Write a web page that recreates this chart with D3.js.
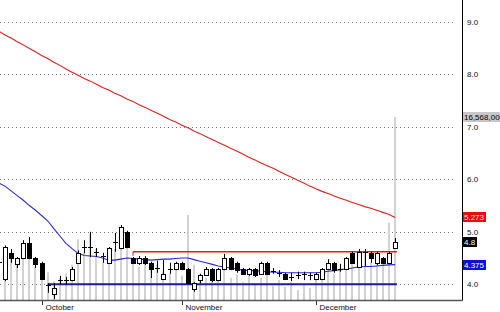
<!DOCTYPE html>
<html>
<head>
<meta charset="utf-8">
<script src="https://cdn.jsdelivr.net/npm/d3@7"></script>
<style>
body { margin: 0; background: #fff; }
svg { display: block; font-family: "Liberation Sans", Arial, sans-serif; }
</style>
</head>
<body>
<svg id="chart"></svg>
<script>
// daily candles, late September to mid December
var opens  = [4.42,4.10,4.60,4.39,4.50,4.79,4.50,4.41,3.98,3.82,4.08,4.08,4.08,4.41,4.71,4.70,4.62,4.52,4.41,4.79,4.69,5.00,4.50,4.41,4.50,4.41,4.31,4.10,4.29,4.29,4.41,4.29,3.91,4.08,4.18,4.29,4.08,4.29,4.50,4.41,4.29,4.20,4.29,4.20,4.41,4.25,4.20,4.20,4.12,4.18,4.18,4.16,4.10,4.10,4.29,4.41,4.29,4.29,4.60,4.33,4.61,4.60,4.41,4.50,4.41,4.69];
var highs  = [4.45,4.74,4.67,4.52,4.84,4.90,4.52,4.43,4.02,4.02,4.16,4.14,4.33,4.65,4.84,5.00,4.69,4.60,4.71,4.98,5.13,5.02,4.52,4.54,4.54,4.43,4.45,4.46,4.41,4.43,4.43,4.31,4.04,4.20,4.33,4.31,4.31,4.58,4.52,4.43,4.31,4.31,4.31,4.43,4.43,4.31,4.27,4.22,4.22,4.24,4.24,4.22,4.22,4.31,4.48,4.43,4.39,4.52,4.62,4.67,4.67,4.62,4.62,4.52,4.62,4.88];
var lows   = [4.35,4.06,4.41,4.31,4.48,4.48,4.31,4.08,3.84,3.72,4.00,4.00,4.06,4.39,4.59,4.52,4.52,4.41,4.39,4.62,4.67,4.69,4.39,4.37,4.37,4.12,4.22,4.08,4.20,4.27,4.27,4.00,3.86,4.02,4.16,4.04,4.06,4.27,4.27,4.22,4.18,4.16,4.14,4.18,4.18,4.20,4.14,4.08,4.06,4.10,4.08,4.08,4.08,4.08,4.27,4.22,4.24,4.27,4.39,4.31,4.35,4.41,4.37,4.39,4.39,4.69];
var closes = [4.40,4.71,4.50,4.50,4.79,4.50,4.39,4.10,3.96,3.93,4.09,4.09,4.29,4.60,4.72,4.71,4.61,4.53,4.69,4.80,5.09,4.71,4.41,4.50,4.41,4.29,4.30,4.20,4.30,4.41,4.29,4.02,4.02,4.18,4.29,4.08,4.29,4.50,4.29,4.27,4.20,4.29,4.18,4.41,4.20,4.26,4.21,4.10,4.13,4.17,4.19,4.17,4.20,4.29,4.41,4.27,4.30,4.50,4.41,4.62,4.62,4.50,4.60,4.41,4.60,4.8];
var volumes = [3000000,3500000,4000000,3200000,4200000,3800000,3000000,2200000,2500000,1700000,2000000,2400000,3200000,5500000,4300000,6000000,4600000,3400000,4500000,4600000,5800000,4800000,3600000,3000000,3400000,2800000,3200000,2600000,2400000,2800000,2200000,7700000,3200000,2400000,2000000,2600000,1800000,3500000,2000000,2300000,1600000,2200000,1500000,2000000,2400000,1300000,1800000,1200000,1600000,900000,1400000,1100000,2000000,2600000,3300000,2400000,2900000,3400000,3800000,3000000,4200000,3400000,3900000,3600000,7000000,16568000];
var maLong = [8.82,8.75,8.69,8.62,8.56,8.49,8.43,8.36,8.30,8.23,8.17,8.10,8.04,7.98,7.92,7.87,7.81,7.75,7.70,7.64,7.59,7.53,7.48,7.42,7.37,7.31,7.26,7.20,7.14,7.09,7.03,6.98,6.92,6.87,6.81,6.76,6.70,6.65,6.59,6.54,6.48,6.42,6.37,6.31,6.26,6.21,6.15,6.09,6.04,5.98,5.93,5.87,5.82,5.77,5.73,5.68,5.64,5.60,5.56,5.52,5.48,5.45,5.41,5.37,5.33,5.273];
var maShort = [5.93,5.87,5.78,5.69,5.60,5.50,5.41,5.31,5.21,5.06,4.92,4.78,4.68,4.59,4.55,4.54,4.53,4.50,4.46,4.46,4.48,4.50,4.49,4.48,4.47,4.46,4.47,4.48,4.48,4.49,4.50,4.50,4.47,4.44,4.41,4.38,4.35,4.33,4.31,4.29,4.27,4.26,4.26,4.25,4.24,4.23,4.23,4.22,4.22,4.22,4.22,4.22,4.22,4.23,4.25,4.26,4.28,4.29,4.31,4.33,4.34,4.34,4.35,4.36,4.37,4.375];
var priceTicks = [4, 5, 6, 7, 8, 9];
var monthLabels = ["October", "November", "December"];
var monthStarts = [7, 30, 52];
var resistance = [22, 65.3, 4.62];   // from index, to index, price
var support = [8, 65.3, 4.0];

var width = 500, height = 312;
var plotRight = 462, volBase = 300;

var svg = d3.select("#chart").attr("width", width).attr("height", height);

var last = closes.length - 1;
var x = d3.scaleLinear().domain([0, last]).range([-1.1, 395.1]);
var y = d3.scaleLinear().domain([4, 9]).range([284.3, 21.8]);
var yv = d3.scaleLinear().domain([0, d3.max(volumes)]).range([volBase, 117]);

function px(v) { return Math.round(v) + 0.5; }

// dotted grid
svg.append("g").selectAll("line").data(priceTicks).join("line")
    .attr("x1", 0).attr("x2", 456)
    .attr("y1", function(d) { return px(y(d)); })
    .attr("y2", function(d) { return px(y(d)); })
    .attr("stroke", "#777").attr("stroke-dasharray", "1,3");

// volume
svg.append("g").selectAll("rect").data(volumes).join("rect")
    .attr("x", function(d, i) { return Math.round(x(i)) - 1; })
    .attr("width", 2)
    .attr("y", function(d) { return yv(d); })
    .attr("height", function(d) { return volBase - yv(d); })
    .attr("fill", "#d2d2d2");

// moving averages
var line = d3.line().x(function(d, i) { return x(i); }).y(function(d) { return y(d); });
svg.append("path").datum(maLong).attr("d", line)
    .attr("fill", "none").attr("stroke", "#dd2020").attr("stroke-width", 1.1);
svg.append("path").datum(maShort).attr("d", line)
    .attr("fill", "none").attr("stroke", "#2a2ad0").attr("stroke-width", 1.1);

// support / resistance
svg.append("line")
    .attr("x1", x(resistance[0])).attr("x2", x(resistance[1]))
    .attr("y1", y(resistance[2])).attr("y2", y(resistance[2]))
    .attr("stroke", "#d42020").attr("stroke-width", 1.5);
svg.append("line")
    .attr("x1", x(resistance[0])).attr("x2", x(resistance[0]))
    .attr("y1", y(resistance[2])).attr("y2", y(resistance[2]) + 4)
    .attr("stroke", "#d42020").attr("stroke-width", 1);
svg.append("line")
    .attr("x1", x(support[0])).attr("x2", x(support[1]))
    .attr("y1", y(support[2])).attr("y2", y(support[2]))
    .attr("stroke", "#1c1c9a").attr("stroke-width", 2);

// candles
var candles = svg.append("g").selectAll("g").data(closes).join("g");
candles.append("line")
    .attr("x1", function(d, i) { return px(x(i)); })
    .attr("x2", function(d, i) { return px(x(i)); })
    .attr("y1", function(d, i) { return y(highs[i]); })
    .attr("y2", function(d, i) { return y(lows[i]); })
    .attr("stroke", "#000");
candles.each(function(c, i) {
    var g = d3.select(this);
    var top = Math.round(y(Math.max(opens[i], c)));
    var bot = Math.round(y(Math.min(opens[i], c)));
    var cx = Math.round(x(i));
    if (bot - top < 2) {
        g.append("line").attr("x1", cx - 2).attr("x2", cx + 3)
            .attr("y1", top + 0.5).attr("y2", top + 0.5).attr("stroke", "#000");
    } else {
        g.append("rect").attr("x", cx - 1.5).attr("y", top + 0.5)
            .attr("width", 4).attr("height", bot - top)
            .attr("fill", c >= opens[i] ? "#fff" : "#000").attr("stroke", "#000");
    }
});

// axes frame
svg.append("line").attr("x1", plotRight + 0.5).attr("x2", plotRight + 0.5)
    .attr("y1", 0).attr("y2", 301).attr("stroke", "#000");
svg.append("line").attr("x1", 0).attr("x2", plotRight + 1)
    .attr("y1", 300.5).attr("y2", 300.5).attr("stroke", "#555").attr("stroke-width", 1.5);

// price labels
svg.append("g").selectAll("text").data(priceTicks).join("text")
    .attr("x", 467).attr("y", function(d) { return y(d) + 3; })
    .attr("font-size", 8).attr("fill", "#111")
    .text(function(d) { return d3.format(".1f")(d); });

// month ticks and labels
var months = svg.append("g").selectAll("g").data(monthStarts).join("g")
    .attr("transform", function(d) { return "translate(" + px(x(d)) + ",0)"; });
months.append("line").attr("y1", 301).attr("y2", 305).attr("stroke", "#333");
months.append("text").attr("x", 3).attr("y", 309.5)
    .attr("font-size", 8).attr("fill", "#111")
    .text(function(d, i) { return monthLabels[i]; });

// value badges on the right
var badges = [
    { v: yv(volumes[last]), text: d3.format(",")(volumes[last]), bg: "#c8c8c8", fg: "#000", w: 40 },
    { v: y(maLong[last]), text: String(maLong[last]), bg: "#e01010", fg: "#fdd", w: 23 },
    { v: y(closes[last]), text: String(closes[last]), bg: "#000", fg: "#fff", w: 14 },
    { v: y(maShort[last]), text: String(maShort[last]), bg: "#1010d0", fg: "#fff", w: 23 }
];
var b = svg.append("g").selectAll("g").data(badges).join("g");
b.append("rect").attr("x", 463).attr("y", function(d) { return Math.round(d.v) - 5; })
    .attr("width", function(d) { return d.w; }).attr("height", 10)
    .attr("fill", function(d) { return d.bg; });
b.append("text").attr("x", 464).attr("y", function(d) { return Math.round(d.v) + 3; })
    .attr("font-size", 8).attr("fill", function(d) { return d.fg; })
    .text(function(d) { return d.text; });
</script>
</body>
</html>
